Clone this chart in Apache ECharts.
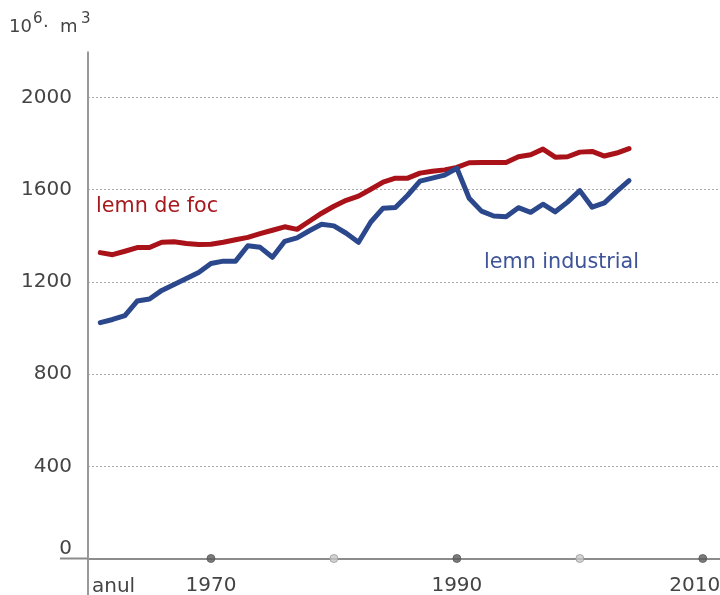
<!DOCTYPE html>
<html>
<head>
<meta charset="utf-8">
<script src="https://cdn.jsdelivr.net/npm/echarts@6.0.0/dist/echarts.min.js"></script>
<style>
  html, body { margin: 0; padding: 0; background: #fff; }
  #chart { width: 720px; height: 595px; }
</style>
</head>
<body>
<div id="chart"></div>
<script>
// ani 1961 - 2004, milioane m3
var years = [1961, 1962, 1963, 1964, 1965, 1966, 1967, 1968, 1969, 1970,
             1971, 1972, 1973, 1974, 1975, 1976, 1977, 1978, 1979, 1980,
             1981, 1982, 1983, 1984, 1985, 1986, 1987, 1988, 1989, 1990,
             1991, 1992, 1993, 1994, 1995, 1996, 1997, 1998, 1999, 2000,
             2001, 2002, 2003, 2004];

var lemnDeFoc = [1327, 1318, 1333, 1349, 1349, 1372, 1374, 1367, 1362, 1363,
                 1372, 1383, 1393, 1409, 1424, 1439, 1428, 1463, 1498, 1528,
                 1554, 1572, 1602, 1633, 1650, 1650, 1672, 1680, 1686, 1697,
                 1717, 1718, 1718, 1718, 1743, 1752, 1776, 1741, 1743, 1763,
                 1766, 1746, 1759, 1778];

var lemnIndustrial = [1023, 1037, 1054, 1117, 1126, 1163, 1189, 1215, 1241, 1280,
                      1290, 1290, 1357, 1350, 1307, 1376, 1391, 1422, 1450, 1443,
                      1411, 1372, 1460, 1520, 1523, 1576, 1637, 1650, 1663, 1693,
                      1563, 1507, 1486, 1483, 1522, 1502, 1537, 1504, 1546, 1596,
                      1524, 1543, 1593, 1639];

var dotYears = [1970, 1980, 1990, 2000, 2010];
var yTicks = [0, 400, 800, 1200, 1600, 2000];

var RED = '#a81218';
var BLUE = '#2c488c';
var FONT = '"DejaVu Sans", Verdana, sans-serif';

var chart = echarts.init(document.getElementById('chart'));

function pairs(vals) {
  return years.map(function (y, i) { return [y, vals[i]]; });
}

var option = {
  animation: false,
  textStyle: { fontFamily: FONT },
  grid: { left: 88, right: 0, top: 97.5, bottom: 36.5, outerBoundsMode: 'none' },
  xAxis: {
    type: 'value',
    min: 1960,
    max: 2011.4,
    interval: 10,
    axisLine: { show: true, lineStyle: { color: '#8c8c8c', width: 2 } },
    axisTick: { show: false },
    splitLine: { show: false },
    axisLabel: {
      margin: 17,
      fontSize: 20,
      color: '#444',
      fontFamily: FONT,
      formatter: function (v) {
        if (v === 2010) return '{last|2010}';
        return (v % 20 === 10) ? String(v) : '';
      },
      rich: {
        last: { fontSize: 20, color: '#444', fontFamily: FONT, padding: [0, 16, 0, 0] }
      }
    }
  },
  yAxis: {
    type: 'value',
    min: yTicks[0],
    max: yTicks[yTicks.length - 1],
    interval: 400,
    axisLine: { show: true, lineStyle: { color: '#999', width: 2 } },
    axisTick: { show: false },
    splitLine: { show: true, lineStyle: { color: '#aaa', width: 1, type: [2, 2] } },
    axisLabel: {
      margin: 16,
      fontSize: 20,
      color: '#444',
      fontFamily: FONT,
      formatter: function (v) {
        return v === 0 ? '{zero|0}' : String(v);
      },
      rich: {
        zero: { fontSize: 20, color: '#444', fontFamily: FONT, padding: [0, 0, 20, 0] }
      }
    }
  },
  series: [
    {
      name: 'lemn de foc',
      type: 'line',
      data: pairs(lemnDeFoc),
      symbol: 'none',
      z: 3,
      lineStyle: { color: RED, width: 5, join: 'round', cap: 'round' }
    },
    {
      name: 'lemn industrial',
      type: 'line',
      data: pairs(lemnIndustrial),
      symbol: 'none',
      z: 4,
      lineStyle: { color: BLUE, width: 5, join: 'round', cap: 'round' }
    },
    {
      type: 'scatter',
      data: dotYears.map(function (y, i) {
        return {
          value: [y, 0],
          itemStyle: i % 2 === 0
            ? { color: '#5a5a5a', borderColor: '#5a5a5a', borderWidth: 1 }
            : { color: '#c8c8c8', borderColor: '#9a9a9a', borderWidth: 1 }
        };
      }),
      symbolSize: 8,
      clip: false,
      z: 5,
      silent: true
    }
  ]
};

chart.setOption(option);

// prelungirile axelor si textele
var origin = chart.convertToPixel({ gridIndex: 0 }, [1960, 0]);
var topPt = chart.convertToPixel({ gridIndex: 0 }, [1960, 2200]);

chart.setOption({
  graphic: [
    {
      type: 'line', silent: true, z: 1,
      shape: { x1: origin[0], y1: topPt[1], x2: origin[0], y2: 595 },
      style: { stroke: '#999', lineWidth: 2 }
    },
    {
      type: 'line', silent: true, z: 1,
      shape: { x1: 60, y1: origin[1], x2: origin[0], y2: origin[1] },
      style: { stroke: '#8c8c8c', lineWidth: 2 }
    },
    { type: 'text', left: 9, top: 18, style: { text: '10', fill: '#444', font: '18px ' + FONT } },
    { type: 'text', left: 33, top: 12, style: { text: '6', fill: '#444', font: '15px ' + FONT } },
    { type: 'text', left: 43, top: 18, style: { text: '·', fill: '#444', font: '18px ' + FONT } },
    { type: 'text', left: 60, top: 18, style: { text: 'm', fill: '#444', font: '18px ' + FONT } },
    { type: 'text', left: 81, top: 12, style: { text: '3', fill: '#444', font: '15px ' + FONT } },
    { type: 'text', left: 96, top: 196, style: { text: 'lemn de foc', fill: '#a8191e', font: '20.7px ' + FONT } },
    { type: 'text', left: 484, top: 252, style: { text: 'lemn industrial', fill: '#3d5499', font: '20.7px ' + FONT } },
    { type: 'text', left: 92, top: 577, style: { text: 'anul', fill: '#444', font: '20px ' + FONT } }
  ]
});
</script>
</body>
</html>
